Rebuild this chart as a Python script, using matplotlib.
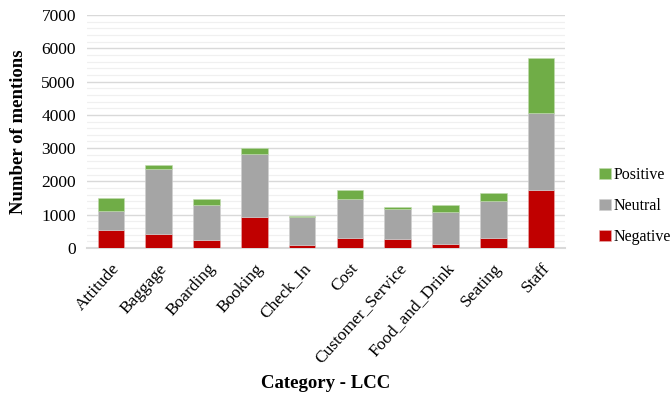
import matplotlib.pyplot as plt
import numpy as np
from matplotlib.ticker import MultipleLocator

plt.rcParams['font.family'] = ['Liberation Serif', 'DejaVu Serif']

categories = ['Attitude', 'Baggage', 'Boarding', 'Booking', 'Check_In', 'Cost',
              'Customer_Service', 'Food_and_Drink', 'Seating', 'Staff']
negative = [550, 430, 230, 930, 100, 310, 280, 130, 290, 1740]
neutral = [550, 1940, 1060, 1900, 820, 1170, 900, 940, 1120, 2310]
positive = [410, 130, 170, 170, 30, 260, 50, 230, 240, 1670]

fig = plt.figure(figsize=(6.71, 3.95), dpi=100)
ax = fig.add_axes([87 / 671, 1 - 248 / 395, 478 / 671, 233 / 395])

x = np.arange(len(categories))
neg = np.array(negative)
neu = np.array(neutral)
pos = np.array(positive)
w = 0.56
ax.bar(x, neg, w, color='#C00000', edgecolor='#E8B0B0', linewidth=0.4, label='Negative', zorder=3)
ax.bar(x, neu, w, bottom=neg, color='#A5A5A5', edgecolor='#D0D0D0', linewidth=0.4, label='Neutral', zorder=3)
ax.bar(x, pos, w, bottom=neg + neu, color='#70AD47', edgecolor='#C0DCB0', linewidth=0.4, label='Positive', zorder=3)

ax.set_xlim(-0.5, len(categories) - 0.5)
ax.set_ylim(0, 7000)
ax.yaxis.set_major_locator(MultipleLocator(1000))
ax.yaxis.set_minor_locator(MultipleLocator(200))
ax.grid(axis='y', which='major', color='#D9D9D9', linewidth=1.0, zorder=0)
ax.grid(axis='y', which='minor', color='#F0F0F0', linewidth=0.9, zorder=0)
ax.set_axisbelow(True)

for s in ['top', 'right', 'left']:
    ax.spines[s].set_visible(False)
ax.spines['bottom'].set_color('#D9D9D9')
ax.spines['bottom'].set_linewidth(1.5)
ax.tick_params(axis='both', which='both', length=0, labelsize=12.5)
ax.tick_params(axis='y', pad=8)
ax.tick_params(axis='x', pad=9)

ax.set_xticks(x)
ax.set_xticklabels(categories, rotation=48, ha='right', rotation_mode='anchor')

ax.set_ylabel('Number of mentions', fontsize=13.5, fontweight='bold', labelpad=10)
fig.text((87 + 565) / 2 / 671, 1 - 383 / 395, 'Category - LCC', fontsize=13.5,
         fontweight='bold', ha='center', va='center')

handles, labels = ax.get_legend_handles_labels()
fig.legend(handles[::-1], labels[::-1], loc='center left',
           bbox_to_anchor=(585 / 671, 1 - 206 / 395), frameon=False,
           fontsize=11.5, handlelength=0.7, handleheight=0.7,
           handletextpad=0.2, labelspacing=0.95)

fig.savefig('out.png', dpi=100)
